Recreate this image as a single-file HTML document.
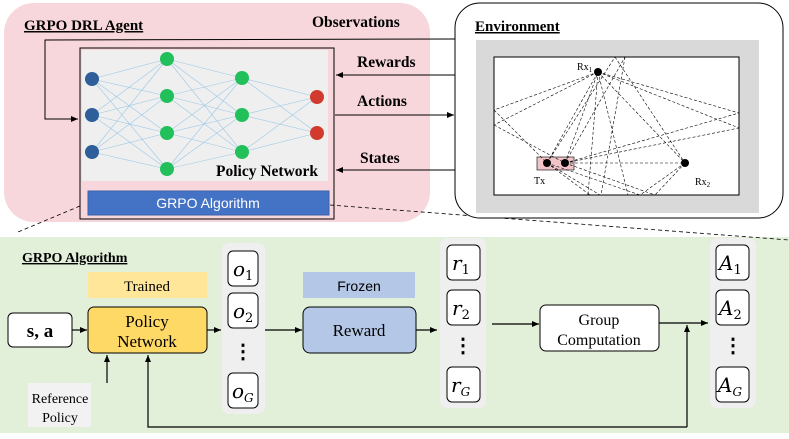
<!DOCTYPE html>
<html><head><meta charset="utf-8"><style>
body{margin:0;width:789px;height:439px;overflow:hidden;background:#fff;position:relative;font-family:"Liberation Serif",serif}
</style></head><body>
<svg width="789" height="439" style="position:absolute;left:0;top:0" font-family="Liberation Serif, serif">
<defs><marker id="a" markerWidth="8" markerHeight="8" refX="7" refY="4" orient="auto" markerUnits="userSpaceOnUse"><path d="M0,1 L7,4 L0,7 z" fill="#000"/></marker></defs>
<rect x="0" y="237" width="789" height="196" fill="#e2efd9"/>
<rect x="4" y="3" width="426" height="219" rx="30" fill="#f8d7dc"/>
<rect x="80" y="48" width="254" height="171" fill="#f8d7dc" stroke="#000" stroke-width="1"/>
<rect x="82" y="50" width="246" height="131" fill="#efefef"/>
<g stroke="#9cc9e6" stroke-width="0.6">
<path d="M92,79L167,59M92,79L167,96M92,79L167,133M92,79L167,169M92,115L167,59M92,115L167,96M92,115L167,133M92,115L167,169M92,152L167,59M92,152L167,96M92,152L167,133M92,152L167,169"/>
<path d="M167,59L242,78M167,59L242,115M167,59L242,152M167,96L242,78M167,96L242,115M167,96L242,152M167,133L242,78M167,133L242,115M167,133L242,152M167,169L242,78M167,169L242,115M167,169L242,152"/>
<path d="M242,78L317,97M242,78L317,133M242,115L317,97M242,115L317,133M242,152L317,97M242,152L317,133"/>
</g>
<g fill="#2e5f9a"><circle cx="92" cy="79" r="7"/><circle cx="92" cy="115" r="7"/><circle cx="92" cy="152" r="7"/></g>
<g fill="#22c05a"><circle cx="167" cy="59" r="7"/><circle cx="167" cy="96" r="7"/><circle cx="167" cy="133" r="7"/><circle cx="167" cy="169" r="7"/><circle cx="242" cy="78" r="7"/><circle cx="242" cy="115" r="7"/><circle cx="242" cy="152" r="7"/></g>
<g fill="#d23a2e"><circle cx="317" cy="97" r="7"/><circle cx="317" cy="133" r="7"/></g>
<text x="216" y="176" font-size="15.5" font-weight="bold">Policy Network</text>
<rect x="88" y="191" width="241" height="24" fill="#4472c4" stroke="#3a62a8"/>
<text x="208" y="208" font-size="14" fill="#fff" text-anchor="middle" font-family="Liberation Sans, sans-serif">GRPO Algorithm</text>
<text x="24" y="30" font-size="15" font-weight="bold" text-decoration="underline">GRPO DRL Agent</text>
<text x="312" y="27" font-size="15.5" font-weight="bold">Observations</text>
<text x="357" y="67" font-size="15.5" font-weight="bold">Rewards</text>
<text x="357" y="106" font-size="15.5" font-weight="bold">Actions</text>
<text x="360" y="163" font-size="15.5" font-weight="bold">States</text>
<g stroke="#000" stroke-width="1" fill="none">
<path d="M455,39 L45,40 L45,119 L78,119" marker-end="url(#a)"/>
<path d="M455,75 L336,75" marker-end="url(#a)"/>
<path d="M335,115 L454,115" marker-end="url(#a)"/>
<path d="M455,170 L336,170" marker-end="url(#a)"/>
</g>
<g stroke="#000" stroke-width="0.8" stroke-dasharray="4,3" fill="none">
<path d="M80,206 L18,232"/><path d="M330,205 L789,240"/>
</g>
<rect x="455" y="3" width="328" height="215" rx="25" fill="#fff" stroke="#000"/>
<text x="475" y="31" font-size="15" font-weight="bold" text-decoration="underline">Environment</text>
<rect x="476" y="40" width="283" height="173" fill="#d9d9d9"/>
<rect x="494" y="57" width="245" height="138" fill="#fff" stroke="#000"/>
<rect x="537" y="157" width="37" height="13" fill="#f0c4c8" stroke="#000" stroke-width="0.6"/>
<g stroke="#000" stroke-width="0.6" stroke-dasharray="3,2" fill="none">
<path d="M547,163 L598,72 M565,163 L598,72 M547,163 L615,57 M565,163 L625,57 M598,72 L494,110 M598,72 L494,125 M598,72 L739,113 M598,72 L739,128 M494,110 L547,163 M494,125 L565,163 M598,72 L685,163 M615,57 L685,163 M625,57 L601,195 M598,72 L588,195 M565,163 L739,113 M565,163 L739,128 M565,163 L685,163 M547,163 L600,195 M547,163 L640,195 M565,163 L655,195 M685,163 L640,195 M685,163 L655,195 M547,163 L590,195 M598,72 L628,195"/>
</g>
<g fill="#000"><circle cx="547" cy="163" r="4"/><circle cx="565" cy="163" r="4"/><circle cx="598" cy="72" r="4"/><circle cx="685" cy="163" r="4"/></g>
<text x="577" y="70" font-size="10">Rx<tspan font-size="7" dy="2">1</tspan></text>
<text x="534" y="184" font-size="10">Tx</text>
<text x="695" y="185" font-size="10">Rx<tspan font-size="7" dy="2">2</tspan></text>
<text x="22" y="262" font-size="14" font-weight="bold" text-decoration="underline">GRPO Algorithm</text>
<rect x="88" y="272" width="119" height="26" fill="#ffe699"/>
<text x="147" y="291" font-size="15" text-anchor="middle">Trained</text>
<rect x="88" y="307" width="119" height="46" rx="6" fill="#ffd966" stroke="#000"/>
<text x="147" y="327" font-size="17" text-anchor="middle">Policy</text>
<text x="147" y="347" font-size="17" text-anchor="middle">Network</text>
<rect x="8" y="313" width="64" height="34" rx="5" fill="#fff" stroke="#000"/>
<text x="40" y="337" font-size="19" font-weight="bold" text-anchor="middle">s, a</text>
<rect x="28" y="383" width="63" height="44" fill="#f2f2f2"/>
<text x="60" y="403" font-size="14" text-anchor="middle">Reference</text>
<text x="60" y="422" font-size="14" text-anchor="middle">Policy</text>
<rect x="303" y="272" width="112" height="26" fill="#b4c7e7"/>
<text x="359" y="291" font-size="14" text-anchor="middle" font-family="Liberation Sans, sans-serif">Frozen</text>
<rect x="303" y="307" width="113" height="46" rx="7" fill="#b4c7e7" stroke="#000"/>
<text x="359" y="336" font-size="17" text-anchor="middle">Reward</text>
<rect x="540" y="305" width="119" height="46" rx="6" fill="#fff" stroke="#000"/>
<text x="599" y="325" font-size="16" text-anchor="middle">Group</text>
<text x="599" y="345" font-size="16" text-anchor="middle">Computation</text>
<rect x="222" y="243" width="43" height="171" rx="7" fill="#efefef"/>
<rect x="440" y="238" width="46" height="170" rx="7" fill="#efefef"/>
<rect x="710" y="238" width="46" height="170" rx="7" fill="#efefef"/>
<g fill="#fff" stroke="#000">
<rect x="228" y="251" width="30" height="35" rx="5"/><rect x="228" y="293" width="30" height="35" rx="5"/><rect x="228" y="373" width="30" height="35" rx="5"/>
<rect x="447" y="245" width="33" height="35" rx="5"/><rect x="447" y="290" width="33" height="35" rx="5"/><rect x="447" y="367" width="33" height="35" rx="5"/>
<rect x="716" y="245" width="33" height="35" rx="5"/><rect x="716" y="290" width="33" height="35" rx="5"/><rect x="716" y="367" width="33" height="35" rx="5"/>
</g>
<g font-size="20" font-style="italic" font-family="DejaVu Serif, serif">
<text x="233" y="276">o<tspan font-size="13" dy="4" font-style="normal">1</tspan></text>
<text x="233" y="318">o<tspan font-size="13" dy="4" font-style="normal">2</tspan></text>
<text x="232" y="398">o<tspan font-size="12" dy="4">G</tspan></text>
<text x="452" y="270">r<tspan font-size="13" dy="4" font-style="normal">1</tspan></text>
<text x="452" y="315">r<tspan font-size="13" dy="4" font-style="normal">2</tspan></text>
<text x="451" y="392">r<tspan font-size="12" dy="4">G</tspan></text>
<text x="719" y="270">A<tspan font-size="13" dy="4" font-style="normal">1</tspan></text>
<text x="719" y="315">A<tspan font-size="13" dy="4" font-style="normal">2</tspan></text>
<text x="718" y="392">A<tspan font-size="12" dy="4">G</tspan></text>
</g>
<g font-size="20" font-weight="bold" text-anchor="middle">
<text x="243" y="358">⋮</text><text x="463" y="352">⋮</text><text x="733" y="352">⋮</text>
</g>
<g stroke="#000" stroke-width="1.2" fill="none">
<path d="M72,330 L87,330" marker-end="url(#a)"/>
<path d="M207,330 L221,330" marker-end="url(#a)"/>
<path d="M265,330 L302,330" marker-end="url(#a)"/>
<path d="M416,330 L437,330" marker-end="url(#a)"/>
<path d="M492,324 L539,324" marker-end="url(#a)"/>
<path d="M659,323 L708,323" marker-end="url(#a)"/>
<path d="M107,383 L107,355" marker-end="url(#a)"/>
<path d="M687,427 L148,427 L148,355" marker-end="url(#a)"/>
<path d="M687,427 L687,325" marker-end="url(#a)"/>
</g>
</svg>
</body></html>
